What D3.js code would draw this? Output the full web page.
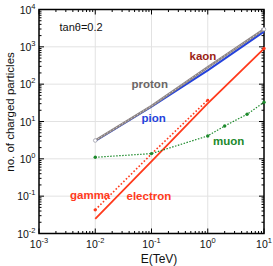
<!DOCTYPE html>
<html lang="en">
<head>
    <meta charset="UTF-8">
    <title>Charged particles vs energy</title>
    <style>
        body { margin: 0; background: #fff; font-family: "Liberation Sans", Arial, sans-serif; }
        svg { display: block; }
    </style>
    <script src="https://d3js.org/d3.v7.min.js"></script>
</head>
<body>
    <div id="chart"></div>

    <script>
        // values (E in TeV)
        const energy = [0.01, 0.1, 1, 10];
        const proton = [3.1, 26, 285, 2950];
        const pion = [3.0, 25, 235, 2550];
        const electron = [0.0247, 0.85, 30.7, 900];
        const gammaE = [0.01, 0.1, 1];
        const gamma = [0.043, 1.35, 37.6];
        const muonE = [0.01, 0.1, 1, 2, 5, 10];
        const muon = [1.1, 1.38, 4.1, 7.6, 15.6, 32.7];
        const xTickExp = [-3, -2, -1, 0, 1];
        const yTickExp = [-2, -1, 0, 1, 2, 3, 4];

        const W = 273, H = 266;
        const margin = {top: 9.5, right: 9, bottom: 32.5, left: 39};
        const red = '#ff3a1c', green = '#1d8a2c', blue = '#2442dc';

        const svg = d3.select('#chart').append('svg')
            .attr('width', W)
            .attr('height', H);

        const x = d3.scaleLog().domain([1e-3, 1e1]).range([margin.left, W - margin.right]);
        const y = d3.scaleLog().domain([1e-2, 1e4]).range([H - margin.bottom, margin.top]);

        // grid lines at decades
        const grid = svg.append('g').attr('stroke', '#e2e2e2').attr('stroke-width', 1);
        grid.selectAll('.gx').data(xTickExp.slice(1, -1)).enter().append('line')
            .attr('x1', d => x(Math.pow(10, d))).attr('x2', d => x(Math.pow(10, d)))
            .attr('y1', y(1e-2)).attr('y2', y(1e4));
        grid.selectAll('.gy').data(yTickExp.slice(1, -1)).enter().append('line')
            .attr('y1', d => y(Math.pow(10, d))).attr('y2', d => y(Math.pow(10, d)))
            .attr('x1', x(1e-3)).attr('x2', x(1e1));

        // inward ticks on all four sides
        const xMinor = [], yMinor = [];
        for (let e = -3; e < 1; e++) for (let k = 2; k < 10; k++) xMinor.push(k * Math.pow(10, e));
        for (let e = -2; e < 4; e++) for (let k = 2; k < 10; k++) yMinor.push(k * Math.pow(10, e));
        const tickG = svg.append('g').attr('stroke', '#000').attr('stroke-width', 1);
        function xTicks(vals, len) {
            vals.forEach(v => {
                tickG.append('line').attr('x1', x(v)).attr('x2', x(v)).attr('y1', y(1e-2)).attr('y2', y(1e-2) - len);
                tickG.append('line').attr('x1', x(v)).attr('x2', x(v)).attr('y1', y(1e4)).attr('y2', y(1e4) + len);
            });
        }
        function yTicks(vals, len) {
            vals.forEach(v => {
                tickG.append('line').attr('y1', y(v)).attr('y2', y(v)).attr('x1', x(1e-3)).attr('x2', x(1e-3) + len);
                tickG.append('line').attr('y1', y(v)).attr('y2', y(v)).attr('x1', x(1e1)).attr('x2', x(1e1) - len);
            });
        }
        xTicks(xTickExp.map(d => Math.pow(10, d)), 5);
        xTicks(xMinor, 2.5);
        yTicks(yTickExp.map(d => Math.pow(10, d)), 5);
        yTicks(yMinor, 2.5);

        // frame
        svg.append('rect')
            .attr('x', x(1e-3)).attr('y', y(1e4))
            .attr('width', x(1e1) - x(1e-3)).attr('height', y(1e-2) - y(1e4))
            .attr('fill', 'none').attr('stroke', '#000').attr('stroke-width', 1.5);

        // tick labels, 10 with a superscript
        function powLabel(sel, e) {
            sel.append('tspan').text('10');
            sel.append('tspan').attr('dy', -5).attr('font-size', 7.5).text(e < 0 ? '-' + (-e) : e);
        }
        xTickExp.forEach(e => {
            const t = svg.append('text')
                .attr('x', x(Math.pow(10, e))).attr('y', 248)
                .attr('text-anchor', 'middle').attr('font-size', 10.5).attr('fill', '#111');
            powLabel(t, e);
        });
        yTickExp.forEach(e => {
            const t = svg.append('text')
                .attr('x', 35.5).attr('y', y(Math.pow(10, e)) + 4)
                .attr('text-anchor', 'end').attr('font-size', 10.5).attr('fill', '#111');
            powLabel(t, e);
        });

        // axis titles
        svg.append('text')
            .attr('x', 159).attr('y', 263)
            .attr('text-anchor', 'middle').attr('font-size', 12).attr('fill', '#111')
            .text('E(TeV)');
        svg.append('text')
            .attr('transform', 'translate(14,112) rotate(-90)')
            .attr('text-anchor', 'middle').attr('font-size', 11.5).attr('fill', '#111')
            .text('no. of charged particles');

        // series
        const line = d3.line().x(d => x(d[0])).y(d => y(d[1]));
        const zip = (xs, ys) => xs.map((v, i) => [v, ys[i]]);

        svg.append('path').datum(zip(energy, pion))
            .attr('d', line).attr('fill', 'none')
            .attr('stroke', blue).attr('stroke-width', 2);
        svg.append('path').datum(zip(energy, proton))
            .attr('d', line).attr('fill', 'none')
            .attr('stroke', '#8d8585').attr('stroke-width', 2.4);
        svg.append('path').datum(zip(energy, proton))
            .attr('d', line).attr('fill', 'none')
            .attr('stroke', '#e8dede').attr('stroke-width', 0.8).attr('stroke-dasharray', '1,2.5');
        [0, 3].forEach(i => {
            svg.append('circle').attr('cx', x(energy[i])).attr('cy', y(proton[i])).attr('r', 1.8)
                .attr('fill', '#fff').attr('stroke', '#9a9aa8').attr('stroke-width', 0.8);
        });

        svg.append('path').datum(zip(gammaE, gamma))
            .attr('d', line).attr('fill', 'none')
            .attr('stroke', red).attr('stroke-width', 1.6).attr('stroke-dasharray', '1.6,2');
        svg.append('path').datum(zip(energy, electron))
            .attr('d', line).attr('fill', 'none')
            .attr('stroke', red).attr('stroke-width', 1.8);
        svg.append('circle').attr('cx', x(gammaE[0])).attr('cy', y(gamma[0])).attr('r', 1.7).attr('fill', red);
        svg.append('circle').attr('cx', x(gammaE[2])).attr('cy', y(gamma[2])).attr('r', 1.4).attr('fill', red);
        svg.append('circle').attr('cx', x(energy[3])).attr('cy', y(electron[3])).attr('r', 1.7).attr('fill', red);

        svg.append('path').datum(zip(muonE, muon))
            .attr('d', line).attr('fill', 'none')
            .attr('stroke', green).attr('stroke-width', 1.2).attr('stroke-dasharray', '1.5,1.5');
        svg.selectAll('.mu').data(zip(muonE, muon)).enter().append('circle')
            .attr('cx', d => x(d[0])).attr('cy', d => y(d[1])).attr('r', 1.7).attr('fill', green);

        // labels
        const labels = [
            {t: 'tan\u03b8=0.2', x: 59.5, y: 31, c: '#111', w: 'normal', s: 11},
            {t: 'kaon', x: 189.5, y: 59.5, c: '#9c1f16', w: 'bold', s: 11.5},
            {t: 'proton', x: 131.5, y: 87.5, c: '#6b6666', w: 'bold', s: 11.5},
            {t: 'pion', x: 141.5, y: 121.5, c: blue, w: 'bold', s: 11.5},
            {t: 'muon', x: 213, y: 145, c: green, w: 'bold', s: 11.5},
            {t: 'gamma', x: 70, y: 199, c: red, w: 'bold', s: 11.5},
            {t: 'electron', x: 126.5, y: 200, c: red, w: 'bold', s: 11.5}
        ];
        svg.selectAll('.lab').data(labels).enter().append('text')
            .attr('x', d => d.x).attr('y', d => d.y)
            .attr('fill', d => d.c).attr('font-weight', d => d.w).attr('font-size', d => d.s)
            .text(d => d.t);
    </script>
</body>
</html>
